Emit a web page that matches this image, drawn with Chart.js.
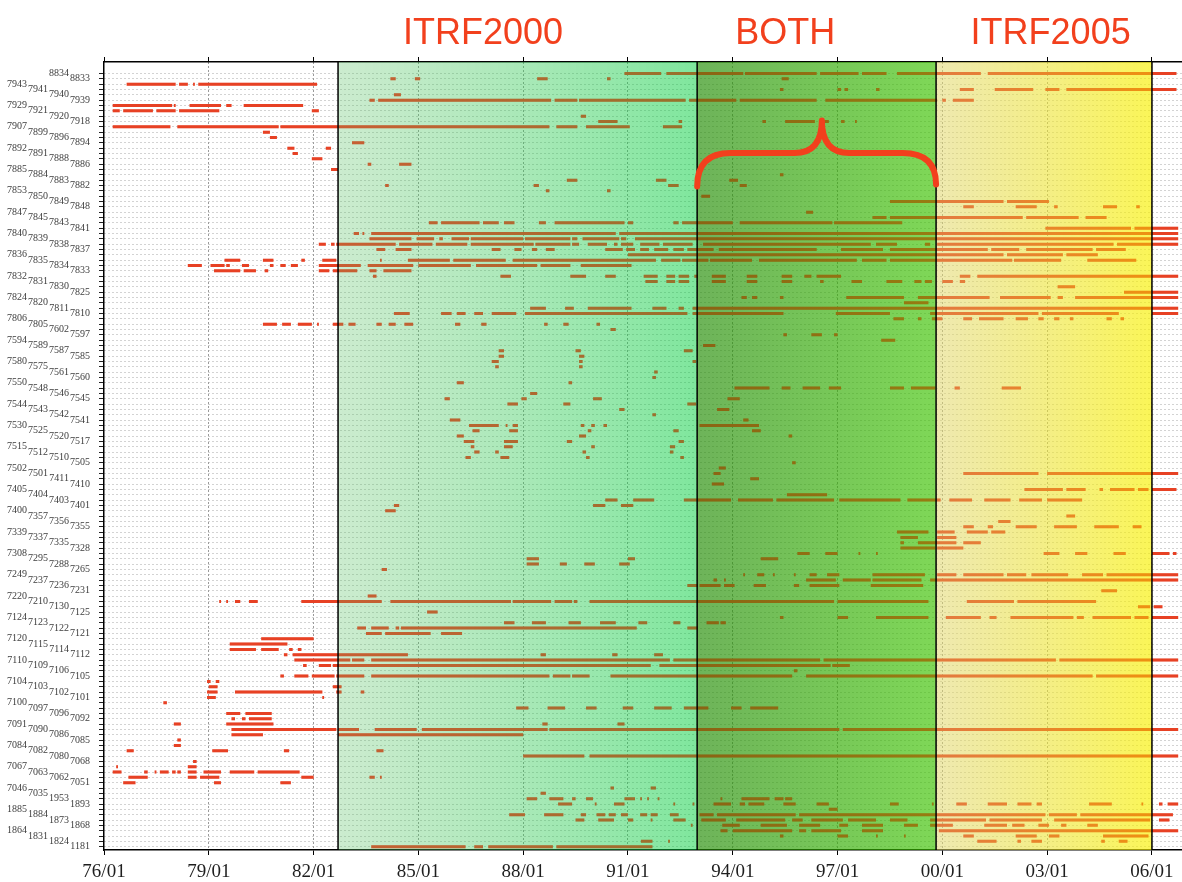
<!DOCTYPE html>
<html>
<head>
<meta charset="utf-8">
<script src="https://cdn.jsdelivr.net/npm/chart.js@4.4.1/dist/chart.umd.min.js"></script>
<style>
  html, body { margin: 0; padding: 0; background: #fff; }
  #wrap { width: 1182px; height: 882px; position: relative; }
</style>
</head>
<body>
<div id="wrap"><canvas id="chart" width="1182" height="882"></canvas></div>
<script>
// ---- data ----------------------------------------------------------------
// station codes, top row first
const stations = [
  '8834','8833',
  '7943','7941','7940','7939', '7929','7921','7920','7918', '7907','7899','7896','7894',
  '7892','7891','7888','7886', '7885','7884','7883','7882', '7853','7850','7849','7848',
  '7847','7845','7843','7841', '7840','7839','7838','7837', '7836','7835','7834','7833',
  '7832','7831','7830','7825', '7824','7820','7811','7810', '7806','7805','7602','7597',
  '7594','7589','7587','7585', '7580','7575','7561','7560', '7550','7548','7546','7545',
  '7544','7543','7542','7541', '7530','7525','7520','7517', '7515','7512','7510','7505',
  '7502','7501','7411','7410', '7405','7404','7403','7401', '7400','7357','7356','7355',
  '7339','7337','7335','7328', '7308','7295','7288','7265', '7249','7237','7236','7231',
  '7220','7210','7130','7125', '7124','7123','7122','7121', '7120','7115','7114','7112',
  '7110','7109','7106','7105', '7104','7103','7102','7101', '7100','7097','7096','7092',
  '7091','7090','7086','7085', '7084','7082','7080','7068', '7067','7063','7062','7051',
  '7046','7035','1953','1893', '1885','1884','1873','1868', '1864','1831','1824','1181'
];

// observation spans per station, in years (83.5 = mid 1983, 100 = Jan 2000)
const spans = [
  [[90.9,91.95],[92.1,94.3],[94.35,96.4],[96.5,97.6],[97.7,98.4],[98.7,101.1],[101.3,106.7]],
  [[84.2,84.35],[84.9,85.05],[88.4,88.7],[90.4,90.5],[95.4,95.6]],
  [[76.65,78.05],[78.15,78.4],[78.55,78.6],[78.7,82.1]],
  [[95.35,95.45],[97.0,97.1],[97.2,97.3],[98.1,98.2],[100.5,100.9],[101.5,102.6],[102.95,103.35],[103.55,106.7]],
  [[84.3,84.5]],
  [[83.6,83.75],[83.85,88.8],[88.9,89.55],[89.6,92.65],[92.75,94.1],[94.2,96.4],[96.65,99.85],[100.0,100.1],[100.3,100.9]],
  [[76.25,77.95],[78.0,78.05],[78.45,79.35],[79.5,79.65],[80.0,81.7]],
  [[76.25,76.45],[76.55,77.4],[77.5,78.05],[78.15,79.3],[81.95,82.15]],
  [[89.65,89.8]],
  [[90.15,90.7],[92.45,92.55],[94.85,94.95],[95.5,96.35],[96.55,96.75],[97.1,97.2],[97.5,97.55]],
  [[76.25,77.9],[78.1,81.0],[81.05,88.75],[88.95,89.55],[89.8,91.05],[92.0,92.55]],
  [[80.55,80.75]],
  [[80.75,80.95]],
  [[83.1,83.45]],
  [[81.25,81.45],[82.35,82.5]],
  [[81.4,81.55]],
  [[81.95,82.25]],
  [[83.55,83.65],[84.45,84.8]],
  [[82.5,82.7]],
  [[95.35,95.45]],
  [[89.25,89.55],[91.8,92.1],[93.9,94.15]],
  [[84.05,84.15],[88.3,88.45],[92.15,92.45],[94.2,94.4]],
  [[88.65,88.75],[90.4,90.5]],
  [[93.1,93.35]],
  [[98.5,101.75],[101.85,103.05]],
  [[100.6,100.9],[102.1,102.7],[103.2,103.3],[104.6,105.0],[105.55,105.65]],
  [[96.1,96.3]],
  [[98.0,98.4],[98.5,102.3],[102.4,103.9],[104.1,104.7]],
  [[85.3,85.55],[85.65,86.75],[86.85,87.3],[87.45,87.75],[88.45,88.65],[88.9,90.9],[91.0,91.15],[92.3,92.45],[92.55,94.0],[94.2,96.85],[96.9,98.85]],
  [[102.95,105.4],[105.5,106.75]],
  [[83.15,83.3],[83.4,83.45],[83.65,90.65],[90.75,106.75]],
  [[83.6,84.8],[84.95,85.45],[85.6,85.7],[85.95,86.45],[86.5,88.0],[88.05,89.35],[89.4,89.55],[89.7,90.75],[90.8,90.95],[91.2,106.75]],
  [[82.15,82.35],[82.5,82.6],[82.65,84.35],[84.45,85.4],[85.5,86.4],[86.5,88.3],[88.35,89.35],[89.4,89.6],[89.85,90.4],[90.6,90.7],[90.8,91.15],[91.35,91.9],[92.0,92.85],[93.15,97.95],[98.1,98.7],[99.5,99.65],[99.85,104.9],[105.0,106.75]],
  [[83.8,84.05],[84.35,84.8],[87.1,87.35],[87.75,87.95],[88.25,88.4],[88.65,88.9],[90.35,90.85],[90.95,91.2],[91.35,91.6],[91.75,92.15],[92.3,92.6],[92.7,93.45],[93.6,96.4],[97.1,98.3],[98.5,101.3],[101.4,102.2],[102.4,104.3],[104.4,105.25]],
  [[91.0,101.75],[101.85,103.45],[103.55,104.45]],
  [[79.45,79.9],[80.55,80.85],[81.65,81.75],[82.25,82.65],[83.9,83.95],[84.7,85.9],[86.0,87.5],[87.7,91.8],[91.95,92.5],[92.55,93.3],[93.35,94.55],[94.75,97.55],[97.7,98.4],[98.5,102.0],[102.05,103.4],[104.15,105.55]],
  [[78.4,78.8],[79.05,79.45],[79.5,79.6],[79.95,80.15],[80.75,80.85],[81.05,81.2],[81.35,81.55],[82.15,83.35],[83.55,84.85],[85.0,86.5],[86.65,88.4],[88.5,89.35],[89.65,91.1]],
  [[79.15,79.9],[80.0,80.35],[80.6,80.7],[82.15,82.45],[82.55,83.25],[83.6,83.8],[84.0,84.8]],
  [[83.7,83.8],[87.35,87.65],[89.35,89.8],[90.35,90.65],[91.45,91.85],[92.1,92.35],[92.45,92.75],[92.9,93.0],[93.4,93.8],[94.4,94.7],[95.4,95.7],[96.05,96.25],[96.4,97.1],[100.5,100.8],[101.0,106.75]],
  [[91.5,91.85],[92.1,92.35],[92.45,92.75],[93.4,93.8],[94.4,94.7],[95.4,95.7],[96.5,96.6],[97.4,97.7],[98.4,98.85],[99.2,99.4],[99.5,99.7],[100.0,100.3],[100.5,100.65]],
  [[103.3,103.8]],
  [[105.2,106.75]],
  [[94.25,94.4],[94.55,94.7],[95.35,95.45],[97.25,98.9],[99.3,101.35],[101.65,103.1],[103.3,103.45],[103.8,106.75]],
  [[98.9,99.6]],
  [[88.2,88.65],[89.2,89.45],[89.85,91.1],[91.7,92.1],[92.45,92.6],[92.85,106.75]],
  [[84.3,84.75],[85.65,85.95],[86.1,86.35],[86.6,86.85],[87.1,87.8],[88.05,92.7],[92.85,95.45],[96.95,98.5],[99.65,102.75],[102.85,105.05],[106.0,106.75]],
  [[98.6,98.9],[99.3,99.4],[99.7,100.0],[100.6,100.85],[101.05,101.75],[102.1,102.45],[102.75,102.9],[103.2,103.35],[103.65,103.75],[104.7,104.85],[105.1,105.2]],
  [[80.55,80.95],[81.1,81.35],[81.55,81.95],[82.1,82.15],[82.55,82.85],[83.0,83.2],[83.8,83.95],[84.15,84.35],[84.6,84.85],[86.05,86.2],[86.8,86.95],[88.6,88.7],[89.15,89.3],[90.1,90.2]],
  [[90.5,90.65]],
  [[95.45,95.55],[96.25,96.55],[96.9,97.0]],
  [[98.25,98.65]],
  [[93.15,93.5]],
  [[87.3,87.45],[89.5,89.65],[92.6,92.85]],
  [[87.3,87.45],[89.6,89.75]],
  [[87.1,87.3],[89.6,89.7],[92.85,92.95]],
  [[87.2,87.3],[89.6,89.7]],
  [[91.75,91.85]],
  [[91.7,91.8]],
  [[86.1,86.3],[89.3,89.4]],
  [[94.05,95.05],[95.4,95.65],[96.0,96.5],[96.75,97.1],[98.5,98.9],[99.1,99.8],[100.35,100.5],[101.7,102.25]],
  [[88.2,88.4]],
  [[85.75,85.9],[87.95,88.1],[90.0,90.25],[93.85,94.2]],
  [[87.55,87.85],[89.15,89.35],[92.7,92.95]],
  [[90.75,90.9],[93.55,93.9]],
  [[91.7,91.8]],
  [[85.9,86.2],[94.3,94.45]],
  [[86.45,87.3],[87.5,87.55],[87.7,87.85],[89.65,89.75],[89.95,90.05],[90.3,90.4],[93.05,94.75]],
  [[86.55,86.75],[87.6,87.85],[89.85,89.95],[92.3,92.45],[94.55,94.8]],
  [[86.1,86.3],[89.6,89.8],[95.6,95.7]],
  [[86.3,86.6],[87.45,87.85],[89.25,89.4],[92.45,92.6]],
  [[86.5,86.6],[87.45,87.7],[89.95,90.05],[92.2,92.35]],
  [[86.6,86.75],[87.2,87.3],[89.7,89.8],[92.2,92.3]],
  [[86.35,86.5],[87.35,87.6],[89.8,89.9],[92.5,92.6]],
  [[95.7,95.8]],
  [[93.6,93.8]],
  [[93.45,93.65],[100.6,102.75],[103.0,106.75]],
  [[94.5,94.75]],
  [[93.4,93.75]],
  [[102.35,103.45],[103.55,104.1],[104.5,104.6],[104.8,105.5],[105.6,105.9],[106.0,106.7]],
  [[95.55,96.7]],
  [[90.35,90.7],[91.15,91.75],[92.6,93.95],[94.15,95.15],[95.25,96.9],[97.05,98.8],[99.0,99.95],[100.2,100.85],[101.2,101.95],[102.2,102.85],[103.0,104.0]],
  [[84.3,84.45],[90.0,90.35],[90.8,91.15]],
  [[84.05,84.35]],
  [[103.55,103.8]],
  [[101.6,101.95]],
  [[100.6,100.9],[101.3,101.45],[102.1,102.7],[103.2,103.85],[104.35,105.05],[105.45,105.7]],
  [[98.7,99.6],[99.85,100.35],[100.7,101.3],[101.4,101.8]],
  [[98.8,99.3],[99.85,100.4]],
  [[98.8,98.9],[99.3,100.4],[100.6,101.1]],
  [[98.8,99.8],[99.85,100.6]],
  [[95.85,96.2],[96.65,97.0],[97.6,97.65],[98.1,98.15],[102.9,103.35],[103.8,104.15],[104.9,105.25],[106.0,106.5],[106.6,106.7]],
  [[88.1,88.45],[91.0,91.2],[94.8,95.3]],
  [[88.1,88.45],[89.05,89.25],[89.75,90.05],[90.75,91.05]],
  [[83.95,84.1]],
  [[94.3,94.35],[94.7,94.9],[95.15,95.2],[95.75,95.8],[96.2,96.4],[96.7,97.05],[98.0,99.5],[99.85,100.4],[100.6,101.75],[101.85,102.4],[102.55,103.6],[104.0,104.6],[104.7,106.75]],
  [[93.45,93.55],[93.75,93.8],[96.1,96.95],[97.15,97.95],[98.0,99.4],[99.65,106.75]],
  [[92.7,93.0],[93.05,93.65],[93.75,94.05],[94.6,94.95],[95.75,95.9],[96.2,97.05],[97.95,99.45]],
  [[104.55,105.0]],
  [[83.55,83.8]],
  [[79.3,79.35],[79.5,79.55],[79.75,79.9],[80.15,80.4],[81.65,83.95],[84.2,87.65],[87.7,88.8],[88.9,89.4],[89.45,89.55],[89.9,96.9],[97.0,99.6],[100.7,102.05],[102.15,104.4]],
  [[105.6,105.95],[106.05,106.3]],
  [[85.25,85.55]],
  [[95.35,95.45],[97.0,97.3],[98.1,99.6],[100.1,101.1],[101.35,101.55],[101.95,103.75],[103.85,104.05],[104.3,105.4],[105.5,105.9],[106.0,106.75]],
  [[87.45,87.75],[88.25,88.65],[89.3,89.65],[90.2,90.65],[91.3,91.55],[92.3,92.5],[93.25,93.6],[93.65,93.8]],
  [[83.25,83.5],[83.65,84.15],[84.35,84.45],[84.5,91.25],[92.7,93.0]],
  [[83.5,83.95],[84.05,85.35],[85.65,86.25]],
  [[80.5,82.0]],
  [[79.6,81.25]],
  [[79.6,80.35],[80.5,81.0],[81.3,81.4],[81.55,81.65]],
  [[81.15,81.25],[81.4,84.7],[88.5,88.65],[90.55,90.7],[91.75,92.0]],
  [[81.45,83.05],[83.1,83.45],[83.65,92.2],[92.3,96.5],[96.6,103.25],[103.35,106.75]],
  [[81.7,81.8],[82.15,82.5],[82.55,91.65],[91.9,96.8],[96.85,97.35]],
  [[95.75,95.85]],
  [[81.05,81.15],[81.45,81.85],[81.95,82.6],[82.65,83.45],[83.65,88.75],[88.85,89.35],[89.4,89.9],[90.5,95.7],[96.1,104.3],[104.4,106.75]],
  [[78.95,79.05],[79.2,79.3]],
  [[79.0,79.25],[82.55,82.8]],
  [[78.95,79.25],[79.75,82.25],[82.65,82.8],[83.35,83.45]],
  [[78.95,79.2],[82.25,82.3]],
  [[77.7,77.8]],
  [[87.8,88.15],[88.7,89.2],[89.8,90.1],[90.85,91.15],[91.75,92.25],[92.6,93.3],[93.95,94.25],[94.5,95.3]],
  [[79.5,79.9],[80.05,80.8]],
  [[79.65,79.75],[79.95,80.05],[80.15,80.8]],
  [[78.0,78.2],[79.5,80.85],[88.55,88.7],[90.7,90.9]],
  [[79.65,82.65],[82.7,83.3],[83.75,84.95],[85.1,88.7],[88.75,97.05],[97.15,106.75]],
  [[79.65,80.55],[82.7,88.0]],
  [[78.1,78.2]],
  [[78.0,78.2]],
  [[76.65,76.85],[79.1,79.55],[81.15,81.3],[83.8,84.0]],
  [[88.0,89.75],[89.9,106.75]],
  [[78.55,78.65]],
  [[76.35,76.4],[78.4,78.65]],
  [[76.25,76.5],[77.15,77.25],[77.45,77.5],[77.6,77.85],[77.95,78.05],[78.1,78.2],[78.4,78.65],[78.85,79.35],[79.6,80.3],[80.4,81.6]],
  [[76.7,77.25],[78.4,78.65],[78.75,79.3],[81.65,82.0],[83.6,83.75],[83.9,83.95]],
  [[76.55,76.9],[79.15,79.35],[81.05,81.35]],
  [[90.5,90.6],[91.65,91.8]],
  [[88.5,88.65]],
  [[88.1,88.4],[88.75,89.15],[89.4,89.5],[89.8,90.0],[90.9,91.2],[91.35,91.4],[91.55,91.6],[91.85,91.9],[93.65,93.7],[94.25,95.05],[95.2,95.45],[95.5,95.7]],
  [[89.0,89.4],[90.05,90.1],[90.6,90.9],[92.3,92.35],[92.85,92.9],[93.45,93.95],[94.2,94.35],[94.45,94.9],[95.45,95.8],[96.4,96.75],[98.5,98.75],[99.7,99.75],[100.4,100.7],[101.3,101.85],[102.15,102.55],[102.7,102.85],[104.2,104.85],[105.7,105.75],[106.2,106.3],[106.45,106.75]],
  [[96.75,97.0]],
  [[87.6,88.05],[88.6,89.15],[89.65,89.8],[90.1,90.35],[90.45,90.65],[90.8,91.0],[91.35,91.55],[91.65,91.85],[92.2,92.45],[93.05,93.45],[93.55,95.8],[95.9,102.95],[103.05,103.85],[103.95,106.6]],
  [[89.5,89.75],[90.15,90.6],[91.0,91.15],[91.65,91.7],[92.3,92.65],[93.1,93.8],[94.1,95.5],[95.7,96.0],[96.25,97.15],[97.3,98.1],[98.5,99.0],[99.65,101.25],[101.35,102.85],[103.2,105.95],[106.2,106.5]],
  [[92.8,92.85],[93.7,94.2],[94.8,95.55],[95.9,96.5],[97.05,97.3],[97.7,98.3],[98.9,99.3],[99.65,100.3],[101.2,101.85],[102.0,102.35],[102.75,103.05],[103.4,103.55],[104.15,104.45]],
  [[93.65,93.85],[94.0,95.7],[95.9,96.1],[96.25,97.1],[97.7,98.3],[99.9,106.75]],
  [[95.35,95.45],[97.0,97.3],[98.1,98.15],[98.9,98.95],[100.6,100.9],[102.1,102.7],[103.05,103.35],[104.6,105.9]],
  [[91.37,91.7],[92.15,92.2],[101.0,101.55],[102.15,102.25],[102.55,102.85],[104.55,104.65],[105.05,105.3]],
  [[83.65,86.35],[86.6,86.85],[87.0,88.85],[88.95,91.7]]
];

const tickYears  = [76, 79, 82, 85, 88, 91, 94, 97, 100, 103, 106];
const tickLabels = ['76/01','79/01','82/01','85/01','88/01','91/01','94/01','97/01','00/01','03/01','06/01'];

// frame periods: ITRF2000 | BOTH | ITRF2005
const frameEpochs = [82.7, 92.98, 99.82, 106.0];
const frameTitles = ['ITRF2000', 'BOTH', 'ITRF2005'];
const titleEpochs = [86.85, 95.5, 103.1];

// curly brace over the overlap period: left end, tip, right end
const braceEpochs = [92.98, 96.55, 99.82];
const braceRows   = [21.2, 14.9, 8.8];   // end, shoulder, tip

// ---- styles --------------------------------------------------------------
const RED = '#f2401d';
const frameFills = [
  ['rgba(95,195,105,0.32)', 'rgba(0,206,60,0.50)'],
  ['rgba(34,140,4,0.66)',   'rgba(60,195,0,0.66)'],
  ['rgba(225,215,110,0.55)', 'rgba(248,240,0,0.66)']
];
const ROW_MIN = -2.16, ROW_MAX = 145.62;

// one line dataset, segments split with null points
const points = [];
spans.forEach((segs, row) => {
  segs.forEach(([a, b]) => {
    points.push({ x: a, y: row }, { x: b, y: row }, { x: b, y: null });
  });
});

// four stacked label columns, like the staggered station names
function labelAxis(col, main) {
  return {
    type: 'linear',
    position: 'left',
    reverse: true,
    min: ROW_MIN,
    max: ROW_MAX,
    weight: col,
    afterFit: s => { s.width = main ? 34 : 21; },
    grid: main ? {
      color: c => (c.tick && c.tick.value >= 0) ? '#a6a6a6' : 'rgba(0,0,0,0)',
      lineWidth: 1,
      tickLength: 5,
      tickColor: c => (c.tick && c.tick.value >= 0) ? '#222' : 'rgba(0,0,0,0)',
      tickBorderDash: []
    } : { display: false, drawTicks: false },
    border: main ? { color: '#000', width: 1.5, dash: [1, 3] } : { display: false },
    ticks: {
      stepSize: 1,
      autoSkip: false,
      includeBounds: false,
      padding: main ? 9 : 1,
      color: '#3c3c3c',
      font: { family: 'Liberation Serif', size: 10 },
      callback: v => (Number.isInteger(v) && v >= 0 && v < stations.length &&
                       (stations.length - 1 - v) % 4 === col) ? stations[v] : ''
    }
  };
}

// the coloured period bands go between the plain red pass and a
// translucent red pass, so marks inside the bands come out tinted
const framesPlugin = {
  id: 'frames',
  beforeDatasetDraw(chart, args) {
    if (args.index !== 1) return;
    const { ctx, chartArea: a, scales: { x } } = chart;
    ctx.save();
    ctx.beginPath();
    ctx.rect(a.left, a.top, a.right - a.left, a.bottom - a.top);
    ctx.clip();
    frameFills.forEach(([c0, c1], i) => {
      const x0 = x.getPixelForValue(frameEpochs[i]);
      const x1 = x.getPixelForValue(frameEpochs[i + 1]);
      const g = ctx.createLinearGradient(x0, 0, x1, 0);
      g.addColorStop(0, c0);
      g.addColorStop(1, c1);
      ctx.fillStyle = g;
      ctx.fillRect(x0, a.top, x1 - x0, a.bottom - a.top);
    });
    ctx.restore();
  },
  afterDatasetsDraw(chart) {
    const { ctx, chartArea: a, scales: { x } } = chart;
    ctx.save();
    ctx.strokeStyle = '#000';
    ctx.lineWidth = 1.5;
    frameEpochs.forEach(e => {
      const px = x.getPixelForValue(e);
      ctx.beginPath();
      ctx.moveTo(px, a.top);
      ctx.lineTo(px, a.bottom);
      ctx.stroke();
    });
    ctx.restore();
  },
  afterDraw(chart) {
    const { ctx, scales: { x, y } } = chart;
    ctx.save();
    // titles above the periods
    ctx.fillStyle = RED;
    ctx.font = '36px "Liberation Sans"';
    ctx.textAlign = 'center';
    ctx.textBaseline = 'alphabetic';
    frameTitles.forEach((t, i) => ctx.fillText(t, x.getPixelForValue(titleEpochs[i]), 44));

    // brace
    const xl = x.getPixelForValue(braceEpochs[0]);
    const xm = x.getPixelForValue(braceEpochs[1]);
    const xr = x.getPixelForValue(braceEpochs[2]);
    const yEnd = y.getPixelForValue(braceRows[0]);
    const ySh = y.getPixelForValue(braceRows[1]);
    const yTip = y.getPixelForValue(braceRows[2]);
    const r = (xr - xl) * 0.14;
    const ri = (xr - xl) * 0.115;
    ctx.strokeStyle = RED;
    ctx.lineWidth = 6;
    ctx.lineCap = 'round';
    ctx.lineJoin = 'round';
    ctx.beginPath();
    ctx.moveTo(xl, yEnd);
    ctx.quadraticCurveTo(xl, ySh, xl + r, ySh);
    ctx.lineTo(xm - ri, ySh);
    ctx.quadraticCurveTo(xm, ySh, xm, yTip);
    ctx.quadraticCurveTo(xm, ySh, xm + ri, ySh);
    ctx.lineTo(xr - r, ySh);
    ctx.quadraticCurveTo(xr, ySh, xr, yEnd - 2);
    ctx.stroke();
    ctx.restore();
  }
};

const xRange = { min: 76, max: 106.86 };
const segStyle = {
  borderWidth: 3,
  borderCapStyle: 'butt',
  pointRadius: 0,
  pointHoverRadius: 0,
  tension: 0,
  spanGaps: false,
  fill: false
};

new Chart(document.getElementById('chart'), {
  type: 'line',
  data: {
    datasets: [
      { ...segStyle, data: points, borderColor: '#ea4329', order: 2 },
      { ...segStyle, data: points, borderColor: 'rgba(225,62,25,0.30)', order: 1 }
    ]
  },
  options: {
    responsive: false,
    animation: false,
    devicePixelRatio: 1,
    layout: { padding: { left: 7, right: 0, top: 56, bottom: 0 } },
    plugins: { legend: { display: false }, tooltip: { enabled: false }, title: { display: false } },
    events: [],
    scales: {
      x: {
        type: 'linear',
        position: 'bottom',
        ...xRange,
        afterBuildTicks: s => { s.ticks = tickYears.map(v => ({ value: v })); },
        afterFit: s => { s.height = 32; },
        grid: {
          color: c => (c.tick && c.tick.value > xRange.min) ? '#9a9a9a' : 'rgba(0,0,0,0)',
          lineWidth: 1,
          tickLength: 5,
          tickColor: '#000',
          tickBorderDash: []
        },
        border: { color: '#000', width: 1.5, dash: [2, 2] },
        ticks: {
          autoSkip: false,
          maxRotation: 0,
          padding: 6,
          color: '#1e1e1e',
          font: { family: 'Liberation Serif', size: 19 },
          callback: v => tickLabels[tickYears.indexOf(v)] || ''
        }
      },
      xTop: {
        type: 'linear',
        position: 'top',
        ...xRange,
        afterBuildTicks: s => { s.ticks = tickYears.map(v => ({ value: v })); },
        afterFit: s => { s.height = 6; },
        grid: { drawOnChartArea: false, tickLength: 5, tickColor: '#000' },
        border: { color: '#000', width: 1.5 },
        ticks: { display: false }
      },
      y: labelAxis(0, true),
      y1: labelAxis(1, false),
      y2: labelAxis(2, false),
      y3: labelAxis(3, false)
    }
  },
  plugins: [framesPlugin]
});
</script>
</body>
</html>
